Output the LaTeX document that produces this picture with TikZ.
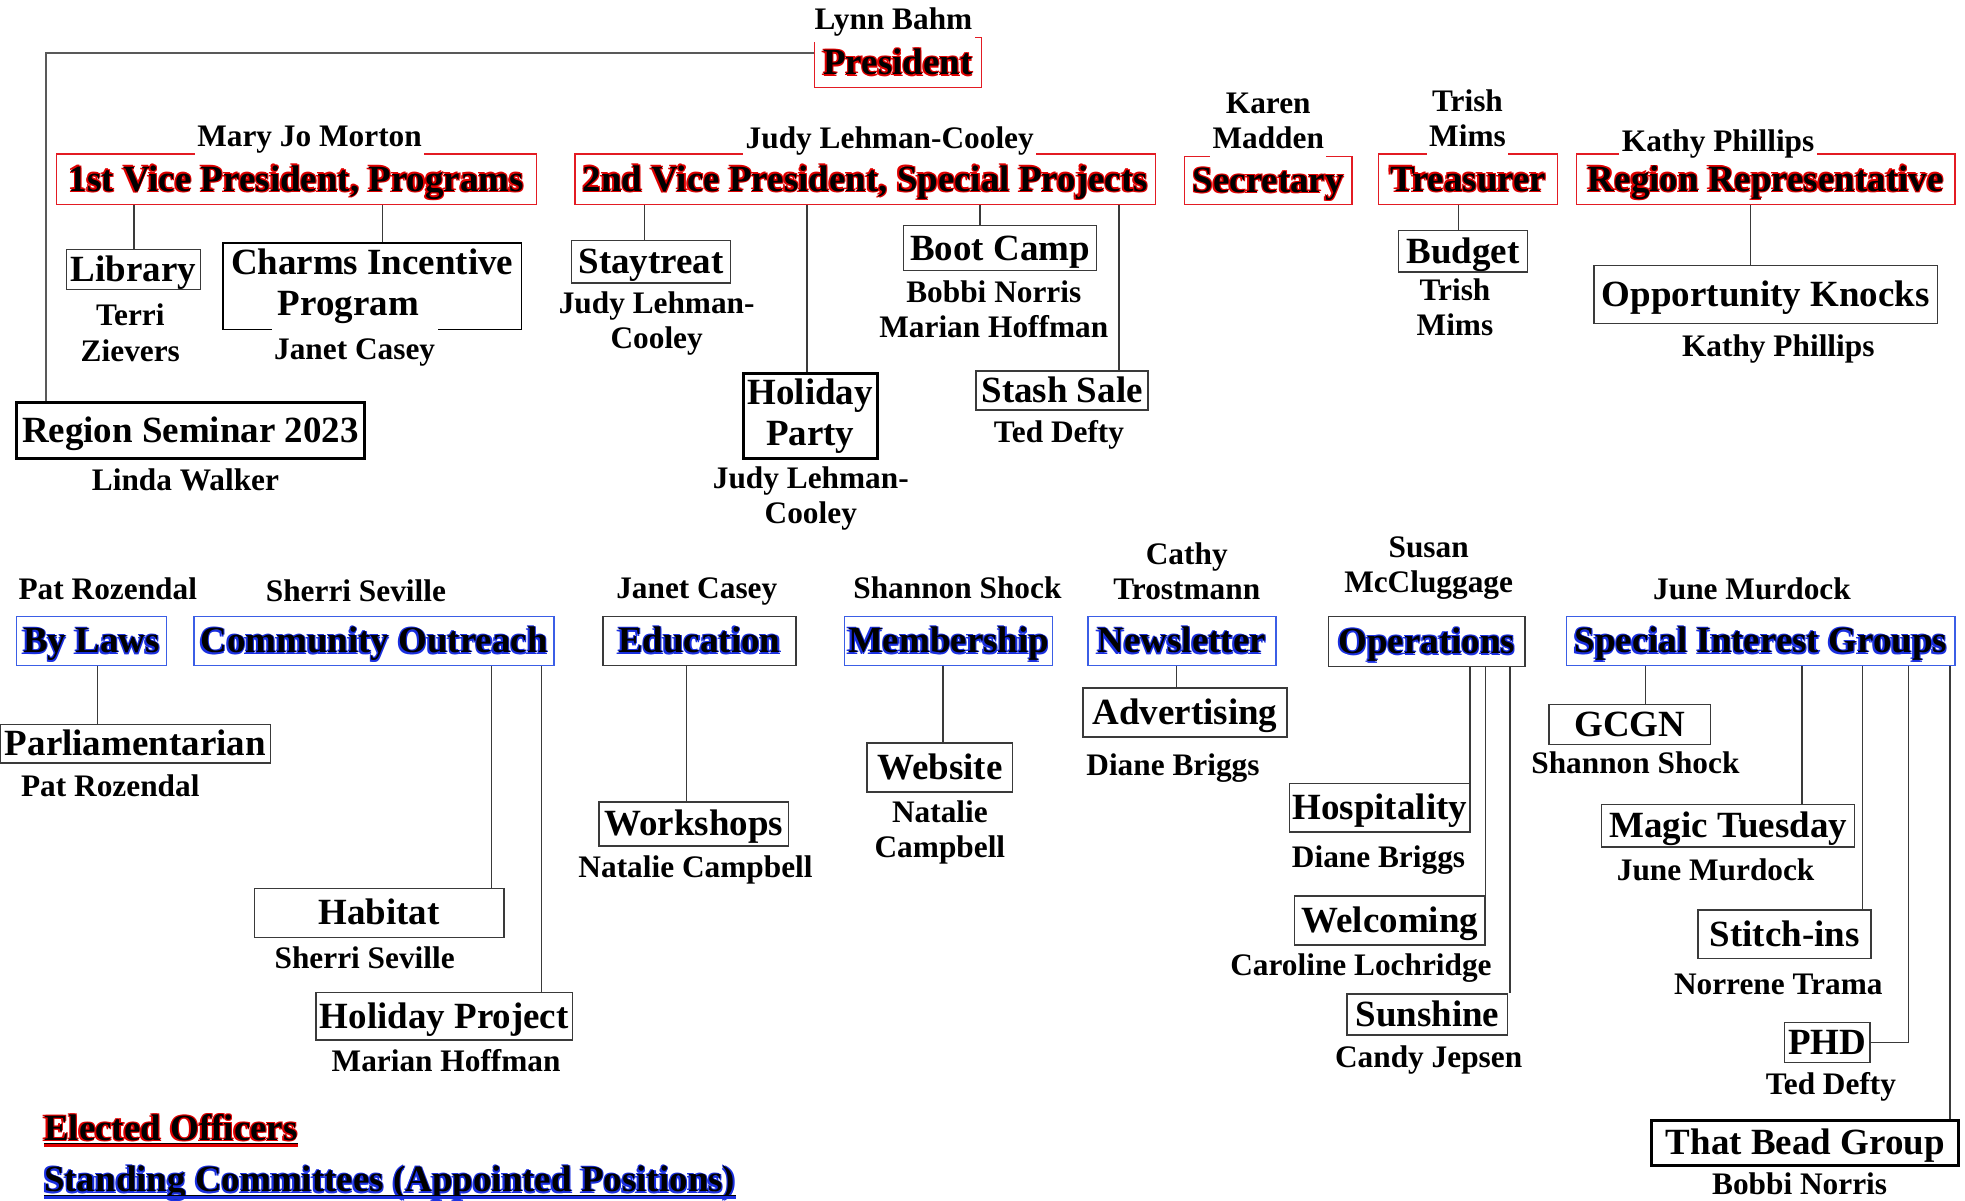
\documentclass[tikz,border=0pt]{standalone}
\usepackage{fontspec}
\setmainfont{Liberation Serif}
\definecolor{offred}{HTML}{E31B23}
\definecolor{comblue}{HTML}{3B5EE6}
\definecolor{haloblue}{HTML}{1A2FE0}
\definecolor{halored}{HTML}{E00000}
\definecolor{linegray}{HTML}{3A3A3A}
\newcommand\halo[2]{\leavevmode\rlap{\kern-1.3pt\raisebox{-1.1pt}{\textcolor{#1}{#2}}}\rlap{\kern0.9pt\raisebox{0.5pt}{\textcolor{#1}{#2}}}\rlap{\kern-0.9pt\raisebox{1pt}{\textcolor{#1}{#2}}}\rlap{\kern0.5pt\raisebox{-1.2pt}{\textcolor{#1}{#2}}}#2}
\tikzset{
  boxbase/.style={draw, line width=1.2pt, inner sep=0pt, font=\bfseries\fontsize{29.5}{33}\selectfont, text height=22pt, text depth=3pt},
  offbox/.style={boxbase, draw=offred},
  combox/.style={boxbase, draw=comblue},
  plainbox/.style={boxbase, draw=linegray},
  box2/.style={draw=black, line width=1.2pt, inner sep=0pt, font=\bfseries\fontsize{29.5}{33}\selectfont, align=center},
  thickbox/.style={boxbase, draw=black, line width=2.6pt},
  who/.style={font=\bfseries\fontsize{25}{28}\selectfont, align=center, fill=white, inner sep=2pt, yshift=-2.6pt, execute at begin node={\strut}, execute at end node={\strut}},
  legendtext/.style={font=\bfseries\fontsize{29.5}{33}\selectfont, inner sep=0pt, anchor=base west},
  conn/.style={draw=linegray, line width=1pt},
}
\newcommand\vconn[3]{\draw[conn] ([xshift=#3]#2.north |- #1.south) -- ([xshift=#3]#2.north);}
\begin{document}
\begin{tikzpicture}[x=1pt,y=-1pt]
\useasboundingbox (0,0) rectangle (1568,958.3);

% ---------- elected officers
\node[offbox, minimum width=133pt, minimum height=40pt] (pres) at (716.5,50) {\halo{halored}{President}};
\node[offbox, minimum width=383pt, minimum height=40pt] (vp1) at (236.5,143) {\halo{halored}{1st Vice President, Programs}};
\node[offbox, minimum width=463pt, minimum height=40pt] (vp2) at (690.5,143) {\halo{halored}{2nd Vice President, Special Projects}};
\node[offbox, minimum width=134pt, minimum height=38pt] (sec) at (1012,144) {\halo{halored}{Secretary}};
\node[offbox, minimum width=143pt, minimum height=40pt] (tre) at (1171.5,143) {\halo{halored}{Treasurer}};
\node[offbox, minimum width=302pt, minimum height=40pt] (rep) at (1409,143) {\halo{halored}{Region Representative}};

% ---------- officer sub-boxes
\node[plainbox, minimum width=107pt, minimum height=32pt] (lib) at (106.5,215) {Library};
\node[box2, minimum width=238pt, minimum height=69pt] (charms) at (297,228.5) {Charms Incentive\\Program\hspace*{38pt}};
\node[thickbox, minimum width=278pt, minimum height=45pt] (sem) at (152,343.5) {Region Seminar 2023};
\node[plainbox, minimum width=127pt, minimum height=34pt] (stay) at (519.5,209) {Staytreat};
\node[box2, line width=2.6pt, minimum width=107pt, minimum height=68pt] (hparty) at (646.5,332) {Holiday\\Party};
\node[plainbox, minimum width=154pt, minimum height=36pt] (boot) at (798,198) {Boot Camp};
\node[plainbox, minimum width=137pt, minimum height=31pt] (stash) at (847.5,311.5) {Stash Sale};
\node[plainbox, minimum width=103pt, minimum height=33pt] (budget) at (1167.5,200.5) {Budget};
\node[plainbox, minimum width=274pt, minimum height=46pt] (opp) at (1409,235) {Opportunity Knocks};

% ---------- standing committees
\node[combox, minimum width=120pt, minimum height=39pt] (bylaws) at (73,511.5) {\halo{haloblue}{By Laws}};
\node[plainbox, minimum width=216pt, minimum height=31pt] (parl) at (108,593.5) {Parliamentarian};
\node[combox, minimum width=287pt, minimum height=39pt] (comm) at (298.5,511.5) {\halo{haloblue}{Community Outreach}};
\node[plainbox, minimum width=199pt, minimum height=39pt] (habitat) at (302.5,728.5) {Habitat};
\node[plainbox, minimum width=205pt, minimum height=38pt] (hproj) at (354.5,811) {Holiday Project};
\node[plainbox, minimum width=154pt, minimum height=39pt] (edu) at (558,511.5) {\halo{haloblue}{Education}};
\node[plainbox, minimum width=151pt, minimum height=35pt] (work) at (553.5,657.5) {Workshops};
\node[combox, minimum width=166pt, minimum height=39pt] (memb) at (757,511.5) {\halo{haloblue}{Membership}};
\node[plainbox, minimum width=116pt, minimum height=39pt] (web) at (750,612.5) {Website};
\node[combox, minimum width=150pt, minimum height=39pt] (news) at (943,511.5) {\halo{haloblue}{Newsletter}};
\node[plainbox, minimum width=163pt, minimum height=39pt] (adv) at (945.5,568.5) {Advertising};
\node[plainbox, minimum width=157pt, minimum height=40pt] (ops) at (1138.5,512) {\halo{haloblue}{Operations}};
\node[plainbox, minimum width=144pt, minimum height=39pt] (hosp) at (1101,644.5) {Hospitality};
\node[plainbox, minimum width=152pt, minimum height=39pt] (welc) at (1109,734.5) {Welcoming};
\node[plainbox, minimum width=128pt, minimum height=33pt] (sun) at (1139,809.5) {Sunshine};
\node[combox, minimum width=310pt, minimum height=39pt] (sig) at (1405,511.5) {\halo{haloblue}{Special Interest Groups}};
\node[plainbox, minimum width=129pt, minimum height=32pt] (gcgn) at (1300.5,578) {GCGN};
\node[plainbox, minimum width=202pt, minimum height=34pt] (magic) at (1379,659) {Magic Tuesday};
\node[plainbox, minimum width=138pt, minimum height=39pt] (stitch) at (1424,745.5) {Stitch-ins};
\node[plainbox, minimum width=68pt, minimum height=32pt] (phd) at (1458,832) {PHD};
\node[thickbox, minimum width=245pt, minimum height=36pt] (bead) at (1440.5,912) {That Bead Group};

% ---------- names
\node[who] (nLynn) at (713,15) {Lynn Bahm};
\node[who] (nMary) at (247,109) {Mary Jo Morton};
\node[who] (nJudy) at (710,110) {Judy Lehman-Cooley};
\node[who] (nKaren) at (1012,98) {Karen\\Madden};
\node[who] (nTrish) at (1171,96) {Trish\\Mims};
\node[who] (nKathy) at (1371,113) {Kathy Phillips};
\node[who] (nTerri) at (104,267) {Terri\\Zievers};
\node[who, inner ysep=5pt] (nJanet) at (283,279) {Janet Casey};
\node[who] (nLinda) at (148,383) {Linda Walker};
\node[who] (nJudyS) at (524,257) {Judy Lehman-\\Cooley};
\node[who] (nJudyH) at (647,397) {Judy Lehman-\\Cooley};
\node[who] (nBoot) at (793,248) {Bobbi Norris\\Marian Hoffman};
\node[who] (nTed) at (845,345) {Ted Defty};
\node[who] (nTrish2) at (1161,247) {Trish\\Mims};
\node[who] (nKathy2) at (1419,276) {Kathy Phillips};

\node[who] (nPat) at (86,470) {Pat Rozendal};
\node[who] (nSherri) at (284,472) {Sherri Seville};
\node[who] (nJanet2) at (556,469) {Janet Casey};
\node[who] (nShannon) at (764,469) {Shannon Shock};
\node[who] (nCathy) at (947,457) {Cathy\\Trostmann};
\node[who] (nSusan) at (1140,452) {Susan\\McCluggage};
\node[who] (nJune) at (1398,470) {June Murdock};
\node[who] (nPat2) at (88,627) {Pat Rozendal};
\node[who] (nSherri2) at (291,765) {Sherri Seville};
\node[who] (nMarian) at (356,847) {Marian Hoffman};
\node[who] (nNat) at (555,692) {Natalie Campbell};
\node[who] (nNat2) at (750,663) {Natalie\\Campbell};
\node[who] (nDiane) at (936,611) {Diane Briggs};
\node[who] (nDiane2) at (1100,684) {Diane Briggs};
\node[who] (nCaro) at (1086,770) {Caroline Lochridge};
\node[who] (nCandy) at (1140,844) {Candy Jepsen};
\node[who] (nShannon2) at (1305,609) {Shannon Shock};
\node[who] (nJune2) at (1369,694) {June Murdock};
\node[who] (nNorr) at (1419,785) {Norrene Trama};
\node[who] (nTed2) at (1461,865) {Ted Defty};
\node[who] (nBobbi) at (1436,945) {Bobbi Norris};

% ---------- connectors
\draw[conn, line width=1.4pt, draw=gray!70!black] ([yshift=8pt]pres.west) -| ([xshift=-115pt]sem.north);
\vconn{vp1}{lib}{0.5pt}
\vconn{vp1}{charms}{8pt}
\vconn{vp2}{stay}{-5.5pt}
\vconn{vp2}{hparty}{-2.5pt}
\vconn{vp2}{boot}{-16pt}
\vconn{vp2}{stash}{45.5pt}
\vconn{tre}{budget}{-3.5pt}
\vconn{rep}{opp}{-12pt}
\vconn{bylaws}{parl}{-30pt}
\vconn{comm}{habitat}{89.5pt}
\vconn{comm}{hproj}{77.5pt}
\vconn{edu}{work}{-5.5pt}
\vconn{memb}{web}{2.5pt}
\vconn{news}{adv}{-6.5pt}
\vconn{ops}{hosp}{72pt}
\vconn{ops}{welc}{76.5pt}
\vconn{ops}{sun}{66pt}
\vconn{sig}{gcgn}{12.5pt}
\vconn{sig}{magic}{59pt}
\vconn{sig}{stitch}{62pt}
\vconn{sig}{bead}{115.5pt}
\draw[conn] ([xshift=118pt]sig.south) |- (phd.east);

% ---------- legend
\node[legendtext] (leg1) at (35,910) {\halo{halored}{Elected Officers}};
\draw[halored, line width=3pt] ([yshift=-4pt]leg1.base west) -- ([yshift=-4pt]leg1.base east);
\draw[black, line width=0.8pt] ([yshift=-2.8pt]leg1.base west) -- ([yshift=-2.8pt]leg1.base east);
\node[legendtext] (leg2) at (35,951) {\halo{haloblue}{Standing Committees (Appointed Positions)}};
\draw[haloblue, line width=3pt] ([yshift=-4pt]leg2.base west) -- ([yshift=-4pt]leg2.base east);
\draw[black, line width=0.8pt] ([yshift=-2.8pt]leg2.base west) -- ([yshift=-2.8pt]leg2.base east);
\end{tikzpicture}
\end{document}
